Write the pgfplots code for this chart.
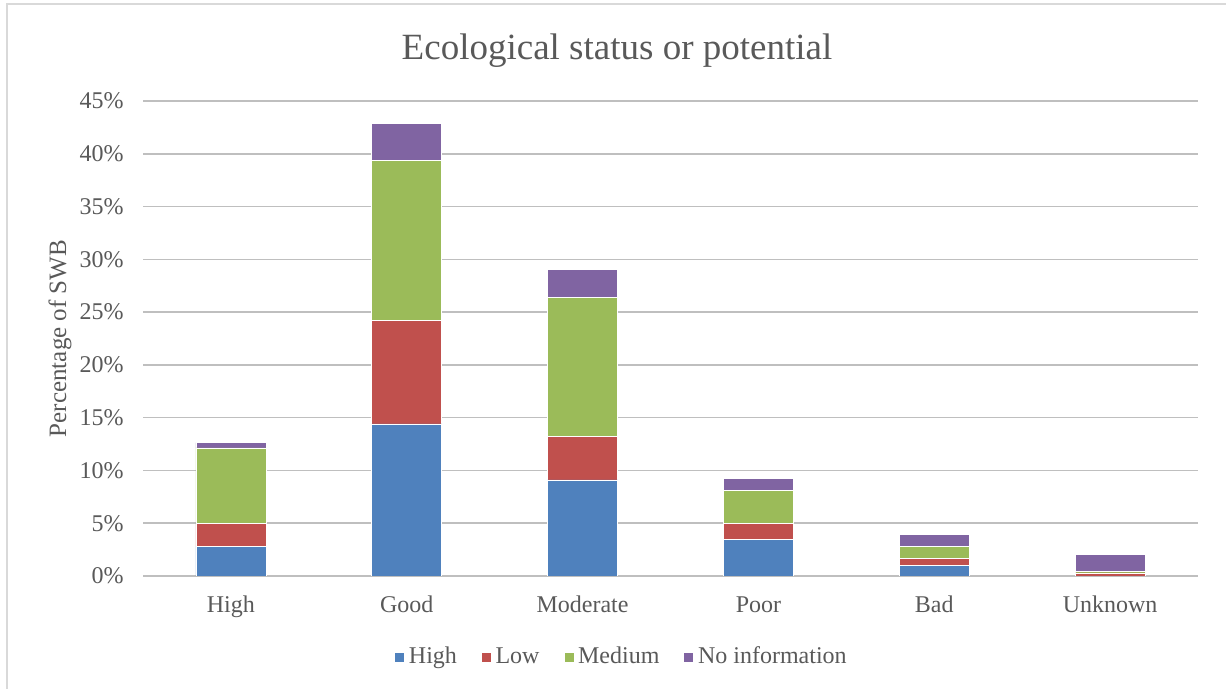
\documentclass[border=0pt]{standalone}
\usepackage{pgfplots}
\pgfplotsset{compat=1.18}
\usepackage{fontspec}
\setmainfont{Liberation Serif}
\definecolor{cHigh}{HTML}{4F81BD}
\definecolor{cLow}{HTML}{C0504D}
\definecolor{cMed}{HTML}{9BBB59}
\definecolor{cNo}{HTML}{8064A2}
\definecolor{txt}{HTML}{595959}
\definecolor{grid}{HTML}{D9D9D9}
\pgfplotstableread{
x high low medium noinfo
0 2.84 2.12 7.17 0.50
1 14.4 9.85 15.1 3.53
2 9.10 4.16 13.11 2.65
3 3.48 1.51 3.09 1.18
4 1.04 0.63 1.10 1.17
5 0.00 0.30 0.13 1.64
}\datatable
\begin{document}
\begin{tikzpicture}
\path[use as bounding box] (0,0) rectangle (613pt,344.5pt);
\draw[grid, line width=1pt] (3.5pt,0) -- (3.5pt,342.5pt) -- (613pt,342.5pt);
\node[anchor=base, text=txt, font=\fontsize{18.5}{22}\selectfont] at (308.5pt,314.5pt) {Ecological status or potential};
\begin{axis}[
  at={(71.5pt,56.5pt)}, anchor=south west,
  scale only axis, width=527.5pt, height=237.5pt,
  ybar stacked, bar width=35pt,
  xmin=-0.5, xmax=5.5, ymin=0, ymax=45,
  xtick=data,
  xticklabels={High,Good,Moderate,Poor,Bad,Unknown},
  ytick={0,5,...,45},
  yticklabels={0\%,5\%,10\%,15\%,20\%,25\%,30\%,35\%,40\%,45\%},
  axis line style={draw=none},
  major tick length=0pt,
  xmajorgrids=false, ymajorgrids=true,
  grid style={grid, line width=0.75pt},
  xticklabel style={anchor=base, yshift=-18.5pt, text=txt, font=\fontsize{12}{14}\selectfont},
  yticklabel style={anchor=east, inner sep=0pt, xshift=-9.5pt, text=txt, font=\fontsize{12}{14}\selectfont},
  ylabel={Percentage of SWB},
  every axis y label/.style={at={(axis description cs:0,0.5)}, rotate=90, anchor=center, yshift=41.5pt, text=txt, font=\fontsize{12.5}{15}\selectfont},
  legend style={at={(axis description cs:0.5,0)}, anchor=center, xshift=-24pt, yshift=-40.5pt, draw=none, fill=none,
    legend columns=-1, font=\fontsize{12}{14}\selectfont, text=txt,
    /tikz/every even column/.append style={column sep=10pt},
    nodes={inner sep=2pt}},
  legend image code/.code={\fill[#1] (0pt,-2.5pt) rectangle (5pt,2.5pt);},
]
\addplot[fill=cHigh, draw=white, line width=0.3pt] table[x=x, y=high] {\datatable};
\addplot[fill=cLow, draw=white, line width=0.3pt] table[x=x, y=low] {\datatable};
\addplot[fill=cMed, draw=white, line width=0.3pt] table[x=x, y=medium] {\datatable};
\addplot[fill=cNo, draw=white, line width=0.3pt] table[x=x, y=noinfo] {\datatable};
\legend{High,Low,Medium,No information}
\end{axis}
\end{tikzpicture}
\end{document}
